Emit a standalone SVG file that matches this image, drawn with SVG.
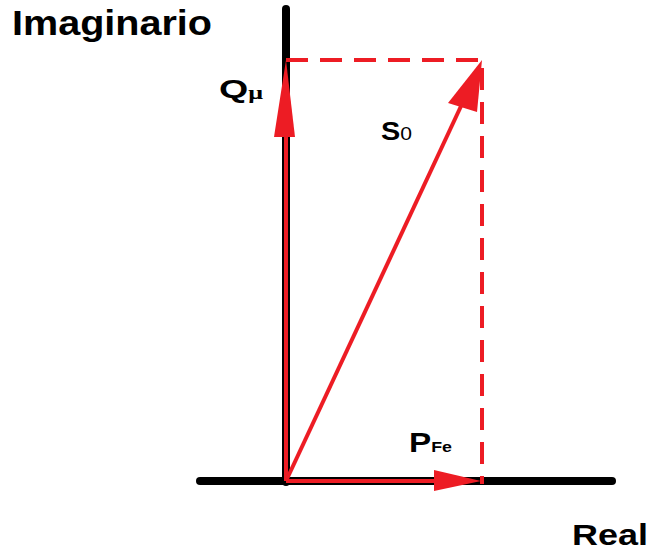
<svg xmlns="http://www.w3.org/2000/svg" width="654" height="556" viewBox="0 0 654 556">
<style>
.ax{stroke:#000;stroke-width:8;stroke-linecap:round;fill:none}
.vec{stroke:#ED1C24;stroke-width:4;fill:none}
.dash{stroke:#ED1C24;stroke-width:4;fill:none;stroke-dasharray:22 12}
.head{fill:#ED1C24}
text{font-family:"Liberation Sans",Arial,sans-serif;font-weight:bold;fill:#000}
</style>
<rect width="654" height="556" fill="#fff"/>
<g id="axes">
<line class="ax" x1="286" y1="9" x2="286" y2="482"/>
<line class="ax" x1="200" y1="481" x2="612" y2="481"/>
</g>
<g id="connectors">
<path class="dash" d="M286 60 H482 V484"/>
<line class="vec" x1="286" y1="481" x2="286" y2="120"/>
<polygon class="head" points="286,60 274,137 295,137"/>
<line class="vec" x1="286" y1="481" x2="462" y2="104"/>
<polygon class="head" points="482,60 448,103 477,112"/>
<line class="vec" x1="286" y1="481" x2="440" y2="481"/>
<polygon class="head" points="481,481 434,470 434,491"/>
</g>
<g id="labels">
<text x="219" y="98" font-size="26" textLength="44" lengthAdjust="spacingAndGlyphs">Q<tspan font-size="18" font-family="Liberation Serif" dy="1">μ</tspan></text>
<text x="12" y="35" font-size="35" textLength="200" lengthAdjust="spacingAndGlyphs">Imaginario</text>
<text x="381" y="140" font-size="26" textLength="31" lengthAdjust="spacingAndGlyphs">S<tspan font-size="19" font-weight="normal">0</tspan></text>
<text x="409" y="452" font-size="28" textLength="43" lengthAdjust="spacingAndGlyphs">P<tspan font-size="15">Fe</tspan></text>
<text x="572" y="545" font-size="30" textLength="76" lengthAdjust="spacingAndGlyphs">Real</text>
</g>
</svg>
